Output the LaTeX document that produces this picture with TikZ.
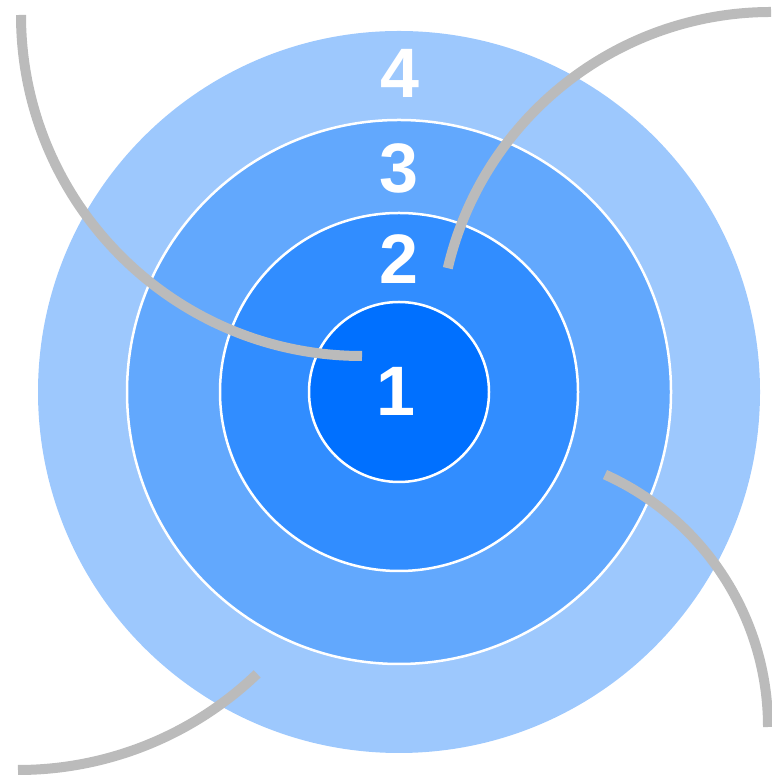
\documentclass[tikz,border=0pt]{standalone}
\usepackage{fontspec}
\setmainfont{Liberation Sans}
\usepackage{xcolor}
\usepackage{tikz}
\definecolor{ringD}{HTML}{9DC8FD}
\definecolor{ringC}{HTML}{62A8FD}
\definecolor{ringB}{HTML}{318DFF}
\definecolor{ringA}{HTML}{0070FF}
\definecolor{wiregray}{HTML}{BBBBBB}

\begin{document}
\begin{tikzpicture}[x=1pt,y=1pt,
ring/.style={draw=white,line width=2.5pt},
digit/.style={text=white,inner sep=0pt,font=\bfseries\fontsize{70}{70}\selectfont},
wire/.style={draw=wiregray,line width=10pt}]
\useasboundingbox (0,0) rectangle (771,775);
\coordinate (c) at (399,383);
% target rings, outermost first
\fill[ringD] (c) circle (361pt);
\foreach \col/\rad in {ringC/272,ringB/179,ringA/90}
  \filldraw[ring,fill=\col] (c) circle (\rad pt);
\foreach \t/\px/\py in {4/400/702,3/399/607,2/399/516,1/396/384}
  \node[digit] (lbl\t) at (\px,\py) {\t};
% grey arcs
\coordinate (arcA) at (362,760);
\coordinate (arcB) at (771,431);
\coordinate (arcC) at (491,48);
\coordinate (arcD) at (18,350.5);
\draw[wire] (arcA) ++(180:341pt) arc[start angle=180,end angle=270,radius=341pt];
\draw[wire] (arcB) ++(166.8:332pt) arc[start angle=166.8,end angle=90,radius=332pt];
\draw[wire] (arcC) ++(65.7:277pt) arc[start angle=65.7,end angle=0,radius=277pt];
\draw[wire] (arcD) ++(-46.2:345.5pt) arc[start angle=-46.2,end angle=-90,radius=345.5pt];
\end{tikzpicture}
\end{document}
